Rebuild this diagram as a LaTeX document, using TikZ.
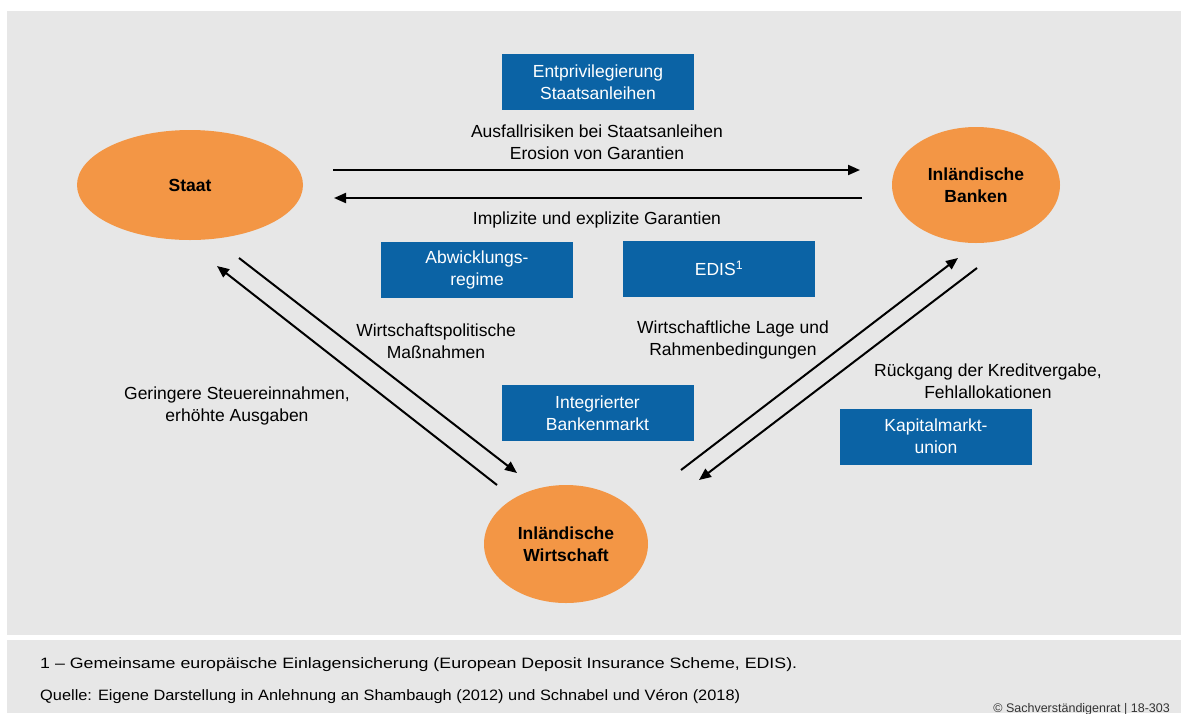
\documentclass[tikz,border=0pt]{standalone}
\usepackage{fontspec}
\setmainfont{Liberation Sans}
\usetikzlibrary{arrows.meta,shapes.geometric}
\definecolor{bg}{HTML}{E7E7E7}
\definecolor{orng}{HTML}{F39645}
\definecolor{blu}{HTML}{0B63A5}
\begin{document}
\begin{tikzpicture}[x=1pt,y=-1pt,
  actor/.style={ellipse,fill=orng,inner sep=0pt,align=center,font=\fontsize{17.5}{22}\selectfont\bfseries},
  bluebox/.style={fill=blu,text=white,inner sep=0pt,minimum width=192pt,minimum height=56pt,align=center,font=\fontsize{17.5}{22}\selectfont},
  lbl/.style={align=center,inner sep=0pt,font=\fontsize{17.5}{22}\selectfont},
  arr/.style={line width=2pt,-{Triangle[length=12pt,width=10pt]}}]
\useasboundingbox (0,0) rectangle (1181,713);
\fill[white] (0,0) rectangle (1181,713);
\fill[bg] (7,11) rectangle (1181,635);
\fill[bg] (7,640) rectangle (1181,713);

\node[actor,minimum width=226pt,minimum height=110pt] (staat) at (190,185) {Staat};
\node[actor,minimum width=168pt,minimum height=116pt] (banken) at (976,185) {Inländische\\Banken};
\node[actor,minimum width=164pt,minimum height=118pt] (wirt) at (566,544) {Inländische\\Wirtschaft};

\node[bluebox] (entpriv) at (598,82) {Entprivilegierung\\Staatsanleihen};
\node[bluebox] (abw) at (477,269.5) {Abwicklungs-\\regime};
\node[bluebox] (edis) at (719,268.5) {EDIS\textsuperscript{1}};
\node[bluebox] (ibm) at (597.5,413) {Integrierter\\Bankenmarkt};
\node[bluebox] (kmu) at (936,436.5) {Kapitalmarkt-\\union};

\coordinate (a1s) at (333,170); \coordinate (a1e) at (860,170);
\coordinate (a2s) at (862,198); \coordinate (a2e) at (334,198);
\coordinate (a3s) at (239,258); \coordinate (a3e) at (517,473);
\coordinate (a4s) at (497,485); \coordinate (a4e) at (217,266);
\coordinate (a5s) at (681,470); \coordinate (a5e) at (958,258);
\coordinate (a6s) at (977,268); \coordinate (a6e) at (699,480);

\draw[arr] (a1s) -- (a1e);
\draw[arr] (a2s) -- (a2e);
\draw[arr] (a3s) -- (a3e);
\draw[arr] (a4s) -- (a4e);
\draw[arr] (a5s) -- (a5e);
\draw[arr] (a6s) -- (a6e);

\node[lbl] (l1) at (597,142) {Ausfallrisiken bei Staatsanleihen\\Erosion von Garantien};
\node[lbl] (l2) at (597,220) {Implizite und explizite Garantien};
\node[lbl] (l3) at (436,341) {Wirtschaftspolitische\\Maßnahmen};
\node[lbl] (l4) at (237,406) {Geringere Steuereinnahmen,\\erhöhte Ausgaben};
\node[lbl] (l5) at (733,340) {Wirtschaftliche Lage und\\Rahmenbedingungen};
\node[lbl] (l6) at (988,381) {Rückgang der Kreditvergabe,\\Fehlallokationen};

\node[anchor=west,inner sep=0pt,font=\fontsize{15}{18}\selectfont] (fn) at (40,665) {\resizebox{757pt}{\height}{1 – Gemeinsame europäische Einlagensicherung (European Deposit Insurance Scheme, EDIS).}};
\node[anchor=west,inner sep=0pt,font=\fontsize{15}{18}\selectfont] (src) at (40,697) {\resizebox{700pt}{\height}{Quelle: Eigene Darstellung in Anlehnung an Shambaugh (2012) und Schnabel und Véron (2018)}};
\node[anchor=east,inner sep=0pt,font=\fontsize{12.5}{15}\selectfont,text=black!80] (copy) at (1170,709) {© Sachverständigenrat | 18-303};
\end{tikzpicture}
\end{document}
